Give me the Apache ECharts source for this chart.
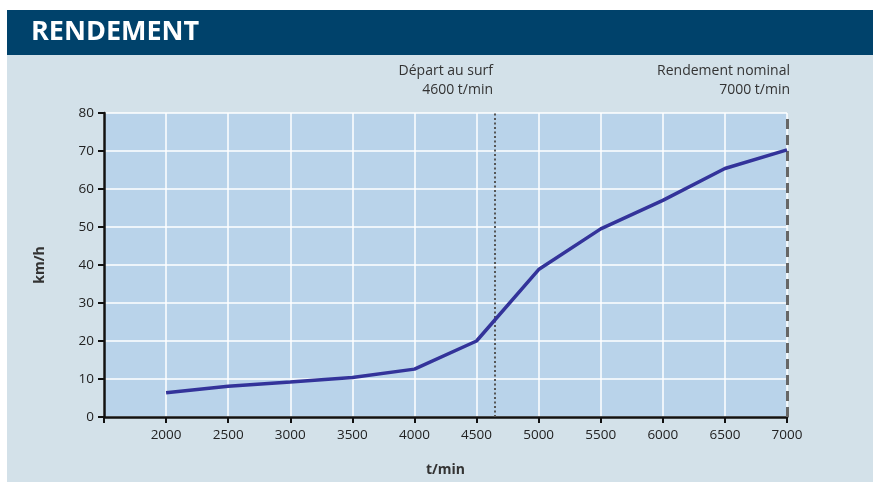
<!DOCTYPE html>
<html><head><meta charset="utf-8">
<script src="https://cdn.jsdelivr.net/npm/echarts@6/dist/echarts.min.js"></script>
<style>html,body{margin:0;padding:0;background:#fff}#c{width:873px;height:482px}</style>
</head><body><div id="c"></div>
<script>
var rpm = [2000, 2500, 3000, 3500, 4000, 4500, 5000, 5500, 6000, 6500, 7000];
var speed = [6.4, 8.1, 9.2, 10.4, 12.6, 20.0, 38.8, 49.5, 57.0, 65.4, 70.3];
var surfStart = 4650;
var nominal = 7000;
var title = 'RENDEMENT';
var noteSurf = ['Départ au surf', '4600 t/min'];
var noteNominal = ['Rendement nominal', '7000 t/min'];
var xName = 't/min', yName = 'km/h';

var font = '"Open Sans", "Noto Sans", sans-serif';
function note(lines, rightEdge) {
  return lines.map(function (t, i) {
    return {type: 'text', right: 873 - rightEdge, top: 64 + i * 19,
      style: {text: t, fill: '#333333', font: '14px ' + font}};
  });
}
var chart = echarts.init(document.getElementById('c'), null, {renderer: 'canvas'});
chart.setOption({
  animation: false,
  backgroundColor: '#ffffff',
  textStyle: {fontFamily: font},
  graphic: [
    {type: 'rect', left: 7, top: 10, shape: {width: 866, height: 472}, style: {fill: '#d3e1e9'}, z: -10},
    {type: 'rect', left: 7, top: 10, shape: {width: 866, height: 45}, style: {fill: '#00426b'}, z: -9},
    {type: 'text', left: 31, top: 19, style: {text: title, fill: '#ffffff', font: 'bold 27px ' + font}}
  ].concat(note(noteSurf, 493)).concat(note(noteNominal, 790)),
  grid: {left: 104, right: 86, top: 113, bottom: 62, show: true, backgroundColor: '#b9d3ea', borderWidth: 0},
  xAxis: {
    type: 'value', min: 1500, max: 7000, interval: 500,
    name: xName, nameLocation: 'middle', nameGap: 46,
    nameTextStyle: {fontWeight: 'bold', fontSize: 14, color: '#333'},
    axisLine: {lineStyle: {color: '#111', width: 2.5}},
    axisTick: {length: 6, lineStyle: {color: '#111', width: 2}},
    axisLabel: {margin: 11, fontSize: 13.5, color: '#222', formatter: function (v) { return v === 1500 ? '' : String(v); }},
    splitLine: {show: true, lineStyle: {color: '#ffffff', width: 1.5}}
  },
  yAxis: {
    type: 'value', min: 0, max: 80, interval: 10,
    name: yName, nameLocation: 'middle', nameGap: 57, nameRotate: 90,
    nameTextStyle: {fontWeight: 'bold', fontSize: 14, color: '#333'},
    axisLine: {show: true, lineStyle: {color: '#111', width: 2.5}},
    axisTick: {show: true, length: 6, lineStyle: {color: '#111', width: 2}},
    axisLabel: {margin: 10, fontSize: 13.5, color: '#222'},
    splitLine: {show: true, lineStyle: {color: '#ffffff', width: 1.5}}
  },
  series: [{
    type: 'line',
    data: rpm.map(function (r, i) { return [r, speed[i]]; }),
    symbol: 'none',
    lineStyle: {color: '#33339a', width: 3.5},
    z: 5,
    markLine: {
      silent: true, symbol: 'none', label: {show: false},
      data: [
        {xAxis: surfStart, lineStyle: {color: '#555', width: 2, type: [2, 2.5]}},
        {xAxis: nominal, lineStyle: {color: '#666', width: 3, type: [10, 6]}}
      ],
      z: 3
    }
  }]
});
</script></body></html>
